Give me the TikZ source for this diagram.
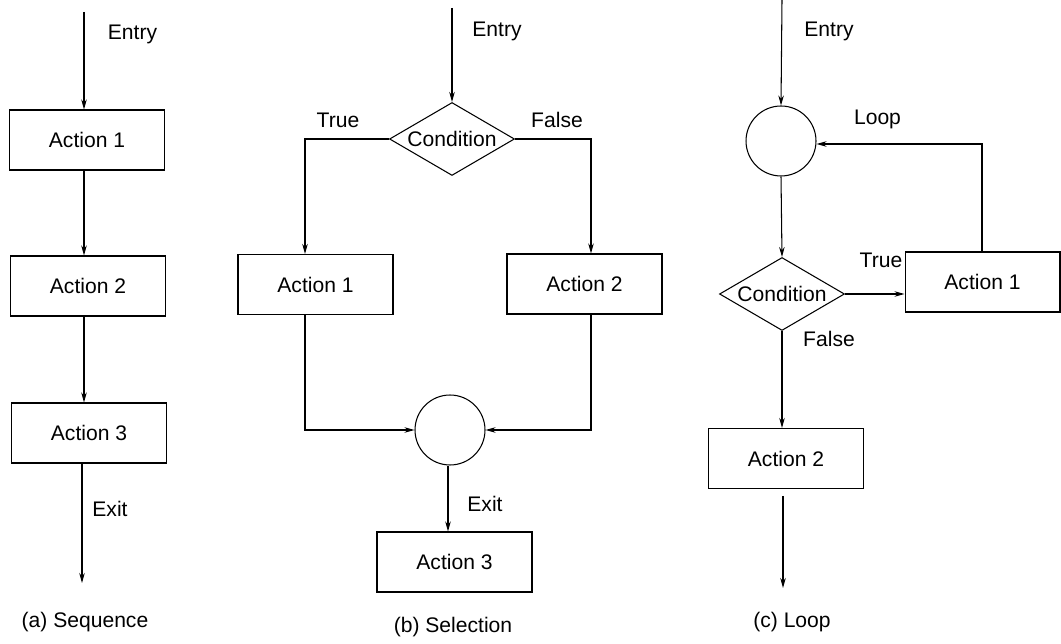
\documentclass[tikz,border=0pt]{standalone}
\usepackage{fontspec}
\setmainfont{Liberation Sans}
\usetikzlibrary{shapes.geometric,arrows.meta}
\begin{document}
\begin{tikzpicture}[x=0.02cm,y=-0.02cm,
  every node/.style={font=\fontsize{12}{14}\selectfont},
  box/.style={draw,line width=0.6pt,minimum width=3.1cm,minimum height=1.2cm,inner sep=0pt},
  cond/.style={draw,line width=0.6pt,diamond,aspect=1.7,inner sep=0pt,minimum width=2.5cm,minimum height=1.46cm},
  junc/.style={draw,line width=0.6pt,circle,inner sep=0pt,minimum size=1.4cm},
  lbl/.style={inner sep=0pt,anchor=base},
  arr/.style={line width=0.6pt,-{Stealth[length=0.2cm,width=0.11cm]}},
  ln/.style={line width=0.6pt}]
\useasboundingbox (0,0) rectangle (1061,644);

% ---------- (a) Sequence ----------
\node[box] (a1) at (87,140) {Action 1};
\node[box] (a2) at (88,286) {Action 2};
\node[box] (a3) at (89,433) {Action 3};
\coordinate (aE) at (84,12);
\coordinate (aX) at (82,583);
\draw[arr] (aE) -- (aE |- a1.north);
\draw[arr] (a1.south -| aE) -- (a2.north -| aE);
\draw[arr] (a2.south -| aE) -- (a3.north -| aE);
\draw[arr] (a3.south -| aX) -- (aX);
\node[lbl] (aEl) at (132.5,40) {Entry};
\node[lbl] (aXl) at (110,517) {Exit};
\node[lbl] (acap) at (85,627) {(a) Sequence};

% ---------- (b) Selection ----------
\node[cond] (bc) at (452,139) {Condition};
\node[box] (b1) at (315.5,284.5) {Action 1};
\node[box] (b2) at (584.5,284) {Action 2};
\node[junc] (bm) at (450,430) {};
\node[box] (b3) at (454.5,562) {Action 3};
\coordinate (bE) at (452,8);
\coordinate (bt) at (305,139);
\coordinate (bf) at (591,139);
\draw[arr] (bE) -- (bc.north);
\draw[arr] (bc.west) -- (bt) -- (bt |- b1.north);
\draw[arr] (bc.east) -- (bf) -- (bf |- b2.north);
\draw[arr] (bt |- b1.south) |- (bm.west);
\draw[arr] (bf |- b2.south) |- (bm.east);
\coordinate (bx) at (448,466);
\draw[arr] (bx) -- (bx |- b3.north);
\node[lbl] (bEl) at (497,37) {Entry};
\node[lbl] (bTl) at (338,128) {True};
\node[lbl] (bFl) at (557,128) {False};
\node[lbl] (bXl) at (485,512) {Exit};
\node[lbl] (bcap) at (453,632) {(b) Selection};

% ---------- (c) Loop ----------
\node[junc] (cm) at (781,141) {};
\node[cond] (cc) at (782,294) {Condition};
\node[box] (c1) at (982.5,282) {Action 1};
\node[box] (c2) at (786,458.5) {Action 2};
\coordinate (cE) at (782,0);
\coordinate (cl) at (982,144);
\coordinate (cx1) at (783,496);
\coordinate (cx2) at (783,588);
\draw[arr] (cE) -- (cm.north);
\draw[arr] (cm.south) -- (cc.north);
\draw[arr] (cc.east) -- (cc.east -| c1.west);
\draw[arr] (c1.north -| cl) -- (cl) -- (cl -| cm.east);
\draw[arr] (cc.south) -- (cc.south |- c2.north);
\draw[arr] (cx1) -- (cx2);
\node[lbl] (cEl) at (829,37) {Entry};
\node[lbl] (cLl) at (877.5,125) {Loop};
\node[lbl] (cTl) at (881,268) {True};
\node[lbl] (cFl) at (829,347) {False};
\node[lbl] (ccap) at (792,627) {(c) Loop};
\end{tikzpicture}
\end{document}
